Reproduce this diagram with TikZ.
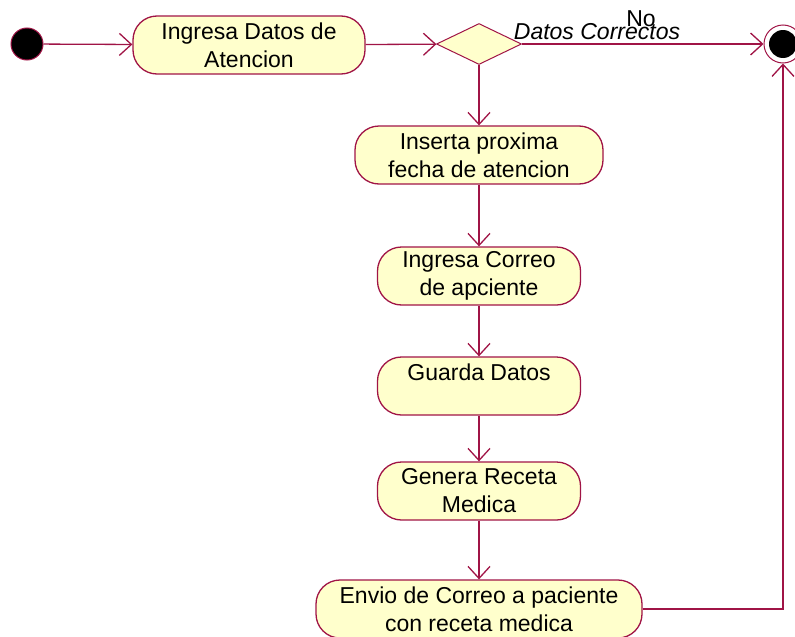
\documentclass[tikz,border=0pt]{standalone}
\usepackage{fontspec}
\setmainfont{Liberation Sans}
\usepackage{tikz}
\usetikzlibrary{arrows.meta,positioning,shapes.geometric}

\definecolor{umlred}{RGB}{160,20,70}
\definecolor{umlfill}{RGB}{255,255,204}

\tikzset{
  activity/.style={draw=umlred, fill=umlfill, line width=1.3pt, rounded corners=24pt,
    minimum height=58pt, align=center, inner sep=0pt,
    font=\fontsize{23}{28}\selectfont},
  flow/.style={draw=umlred, line width=1.3pt, -{Straight Barb[length=12pt,width=22pt]}},
}

\begin{document}
\begin{tikzpicture}[x=1pt,y=-1pt]
\useasboundingbox (0,0) rectangle (795,637);
% estados inicial y final
\node[circle, fill=black, draw=umlred, line width=1pt, minimum size=32pt] (inicio) at (27,44) {};
\node[circle, fill=white, draw=umlred, line width=1pt, minimum size=38pt] (fin) at (783,44) {};
\node[circle, fill=black, minimum size=28pt] (finpunto) at (fin) {};
% actividades
\node[activity, minimum width=232pt] (ingresa) at (249,45) {Ingresa Datos de\\Atencion};
\node[diamond, draw=umlred, fill=umlfill, line width=1pt, minimum width=85pt, minimum height=41pt, inner sep=0pt] (decision) at (479,44) {};
\node[activity, minimum width=248pt] (inserta) at (479,155) {Inserta proxima\\fecha de atencion};
\node[activity, minimum width=203pt] (correo) at (479,276) {Ingresa Correo\\de apciente};
\node[activity, minimum width=203pt] (guarda) at (479,386) {Guarda Datos\\\mbox{}};
\node[activity, minimum width=203pt] (receta) at (479,491) {Genera Receta\\Medica};
\node[activity, minimum width=326pt] (envio) at (479,609) {Envio de Correo a paciente\\con receta medica};
% etiquetas
\node[font=\fontsize{23}{26}\selectfont\itshape, inner sep=0pt] (cond) at (597,32) {Datos Correctos};
\node[font=\fontsize{23}{26}\selectfont, inner sep=0pt] (no) at (641,19) {No};
% transiciones
\draw[flow] (inicio) -- (ingresa);
\draw[flow] (ingresa) -- (decision);
\draw[flow] (decision) -- (fin);
\draw[flow] (decision) -- (inserta);
\draw[flow] (inserta) -- (correo);
\draw[flow] (correo) -- (guarda);
\draw[flow] (guarda) -- (receta);
\draw[flow] (receta) -- (envio);
\draw[flow] (envio.east) -| (fin.south);
\end{tikzpicture}
\end{document}
